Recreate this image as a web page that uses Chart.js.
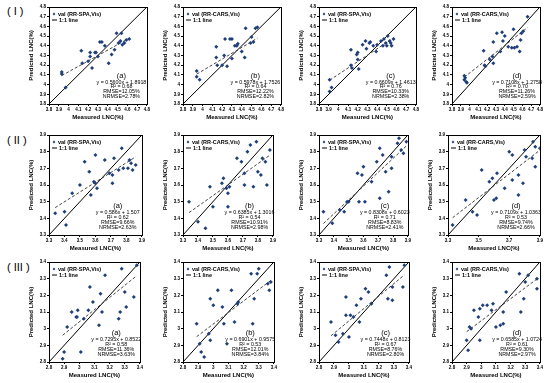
<!DOCTYPE html>
<html>
<head>
<meta charset="utf-8">
<script src="https://cdn.jsdelivr.net/npm/chart.js@4.4.1/dist/chart.umd.min.js"></script>
<style>
  body { margin: 0; width: 550px; height: 383px; background: #fff; position: relative; overflow: hidden; }
  .row-label { position: absolute; left: 7px; font: 11px 'Liberation Sans', Arial, sans-serif; color: #000; }
  canvas { position: absolute; }
</style>
</head>
<body>
<div class="row-label" style="top:5px">( I )</div>
<div class="row-label" style="top:134px">( II )</div>
<div class="row-label" style="top:261px">( III )</div>
<script>
// ---- data (measured x, predicted y) ----
const xIa = [3.93, 3.93, 3.97, 4.13, 4.14, 4.20, 4.22, 4.22, 4.24, 4.27, 4.28, 4.30, 4.32, 4.34, 4.37, 4.41, 4.44, 4.47, 4.49, 4.51, 4.53, 4.54, 4.55, 4.57, 4.59, 4.62];
const yIa = [4.13, 4.11, 3.97, 4.35, 4.22, 4.24, 4.33, 4.29, 4.17, 4.33, 4.33, 4.29, 4.44, 4.44, 4.40, 4.22, 4.31, 4.36, 4.53, 4.43, 4.45, 4.53, 4.41, 4.43, 4.46, 4.47];
const xIb = [3.94, 3.94, 3.97, 4.14, 4.14, 4.15, 4.20, 4.22, 4.23, 4.25, 4.28, 4.30, 4.30, 4.33, 4.35, 4.36, 4.40, 4.43, 4.44, 4.49, 4.50, 4.52, 4.54, 4.56];
const yIb = [4.14, 4.08, 4.05, 4.39, 4.28, 4.20, 4.20, 4.30, 4.47, 4.19, 4.47, 4.27, 4.47, 4.40, 4.40, 4.42, 4.34, 4.28, 4.58, 4.43, 4.49, 4.44, 4.58, 4.59];
const xIc = [3.91, 3.93, 3.91, 4.13, 4.13, 4.14, 4.19, 4.20, 4.20, 4.21, 4.25, 4.28, 4.29, 4.32, 4.33, 4.36, 4.39, 4.40, 4.44, 4.46, 4.47, 4.49, 4.50, 4.51, 4.53, 4.54, 4.55, 4.57];
const yIc = [4.05, 3.97, 3.93, 4.36, 4.20, 4.17, 4.31, 4.33, 4.26, 4.16, 4.41, 4.45, 4.37, 4.43, 4.44, 4.40, 4.34, 4.41, 4.45, 4.40, 4.47, 4.43, 4.40, 4.50, 4.45, 4.43, 4.40, 4.47];
const xId = [3.94, 3.94, 3.95, 3.97, 3.96, 4.16, 4.18, 4.17, 4.23, 4.26, 4.27, 4.27, 4.31, 4.35, 4.37, 4.38, 4.40, 4.44, 4.48, 4.50, 4.51, 4.54, 4.57, 4.58, 4.59, 4.61, 4.66];
const yId = [4.05, 4.09, 4.07, 4.02, 4.03, 4.35, 4.19, 4.20, 4.26, 4.29, 4.22, 4.44, 4.53, 4.34, 4.54, 4.45, 4.50, 4.39, 4.38, 4.57, 4.38, 4.39, 4.34, 4.46, 4.53, 4.55, 4.70];
const xIIa = [3.34, 3.40, 3.41, 3.45, 3.50, 3.53, 3.56, 3.57, 3.59, 3.60, 3.60, 3.61, 3.66, 3.69, 3.71, 3.71, 3.72, 3.75, 3.77, 3.78, 3.81, 3.82, 3.83, 3.84, 3.86];
const yIIa = [3.43, 3.44, 3.36, 3.55, 3.60, 3.74, 3.68, 3.54, 3.62, 3.61, 3.78, 3.58, 3.75, 3.67, 3.66, 3.61, 3.76, 3.69, 3.82, 3.70, 3.70, 3.75, 3.73, 3.69, 3.72];
const xIIb = [3.34, 3.40, 3.45, 3.48, 3.50, 3.56, 3.57, 3.59, 3.60, 3.60, 3.61, 3.66, 3.69, 3.71, 3.71, 3.73, 3.75, 3.77, 3.79, 3.80, 3.82, 3.83, 3.85, 3.86, 3.88];
const yIIb = [3.50, 3.38, 3.34, 3.59, 3.47, 3.61, 3.64, 3.58, 3.55, 3.47, 3.59, 3.76, 3.74, 3.67, 3.60, 3.80, 3.84, 3.59, 3.86, 3.68, 3.66, 3.76, 3.74, 3.60, 3.81];
const xIIc = [3.33, 3.39, 3.44, 3.47, 3.49, 3.50, 3.56, 3.57, 3.59, 3.60, 3.61, 3.655, 3.69, 3.71, 3.71, 3.73, 3.75, 3.77, 3.79, 3.79, 3.83, 3.84, 3.855, 3.87, 3.89];
const yIIc = [3.44, 3.37, 3.45, 3.44, 3.50, 3.50, 3.67, 3.50, 3.66, 3.71, 3.50, 3.62, 3.74, 3.82, 3.52, 3.78, 3.68, 3.56, 3.70, 3.77, 3.85, 3.88, 3.81, 3.79, 3.86];
const xIId = [3.33, 3.415, 3.46, 3.49, 3.52, 3.57, 3.59, 3.60, 3.615, 3.62, 3.67, 3.70, 3.72, 3.72, 3.76, 3.76, 3.79, 3.80, 3.81, 3.85, 3.855, 3.87, 3.87, 3.90];
const yIId = [3.36, 3.51, 3.44, 3.42, 3.69, 3.62, 3.64, 3.51, 3.52, 3.67, 3.58, 3.80, 3.78, 3.63, 3.66, 3.54, 3.61, 3.81, 3.77, 3.76, 3.86, 3.83, 3.71, 3.82];
const xIIIa = [2.89, 2.90, 2.92, 2.95, 2.98, 2.985, 2.99, 3.01, 3.03, 3.06, 3.07, 3.09, 3.13, 3.14, 3.15, 3.17, 3.26, 3.27, 3.28, 3.30, 3.31, 3.36, 3.38];
const yIIIa = [2.82, 2.86, 3.01, 3.10, 3.07, 3.07, 3.11, 2.86, 3.06, 3.11, 3.25, 3.16, 3.02, 3.21, 3.10, 3.32, 3.06, 3.10, 3.36, 3.22, 3.13, 3.19, 3.38];
const xIIIb = [2.89, 2.91, 2.92, 2.94, 2.97, 2.98, 2.98, 3.00, 3.03, 3.06, 3.07, 3.09, 3.12, 3.14, 3.16, 3.165, 3.25, 3.26, 3.27, 3.29, 3.30, 3.36, 3.37, 3.38];
const yIIIb = [3.03, 2.91, 2.86, 2.83, 2.97, 2.93, 3.18, 3.14, 3.23, 3.13, 3.03, 2.91, 3.23, 3.04, 3.15, 3.16, 3.33, 3.03, 3.18, 3.33, 3.36, 3.27, 3.23, 3.28];
const xIIIc = [2.88, 2.91, 2.93, 2.96, 2.98, 2.98, 3.00, 3.01, 3.03, 3.05, 3.07, 3.08, 3.11, 3.13, 3.15, 3.25, 3.26, 3.27, 3.29, 3.29, 3.36, 3.37];
const yIIIc = [3.04, 2.96, 2.92, 2.97, 3.08, 3.19, 2.95, 3.08, 3.07, 3.14, 3.04, 3.18, 3.24, 3.22, 3.15, 3.32, 3.18, 3.37, 3.17, 3.25, 3.25, 3.38];
const xIIId = [2.90, 2.91, 2.92, 2.93, 2.95, 2.98, 2.99, 2.99, 3.01, 3.04, 3.07, 3.08, 3.10, 3.13, 3.15, 3.15, 3.17, 3.26, 3.27, 3.29, 3.30, 3.32, 3.38, 3.38];
const yIIId = [2.93, 2.87, 3.01, 3.00, 3.11, 3.07, 2.93, 3.12, 3.14, 3.14, 3.11, 3.15, 3.01, 3.02, 3.03, 3.10, 3.22, 3.33, 3.10, 3.18, 3.28, 3.32, 3.30, 3.24];

// ---- fitted lines and statistics printed on each panel ----
const slopes     = [0.5600, 0.5978, 0.6609, 0.7108, 0.586, 0.6385, 0.8308, 0.7109, 0.7295, 0.6901, 0.7448, 0.6585];
const intercepts = [1.8918, 1.7526, 1.4613, 1.2758, 1.507, 1.3016, 0.6023, 1.0363, 0.8522, 0.9575, 0.8123, 1.0724];
const eqText     = ['y = 0.5600x + 1.8918', 'y = 0.5978x + 1.7526', 'y = 0.6609x + 1.4613', 'y = 0.7108x + 1.2758',
                    'y = 0.586x + 1.507', 'y = 0.6385x + 1.3016', 'y = 0.8308x + 0.6023', 'y = 0.7109x + 1.0363',
                    'y = 0.7295x + 0.8522', 'y = 0.6901x + 0.9575', 'y = 0.7448x + 0.8123', 'y = 0.6585x + 1.0724'];
const r2Text     = ['0.68', '0.64', '0.76', '0.70', '0.62', '0.54', '0.71', '0.53', '0.58', '0.53', '0.67', '0.61'];
const rmseText   = ['12.05%', '12.22%', '10.33%', '11.26%', '9.66%', '10.91%', '8.83%', '9.74%', '11.36%', '12.01%', '8.76%', '9.30%'];
const nrmseText  = ['2.78%', '2.82%', '2.38%', '2.59%', '2.63%', '2.98%', '2.41%', '2.66%', '3.63%', '3.84%', '2.80%', '2.97%'];
const panelTags  = ['(a)', '(b)', '(c)', '(d)'];
const seriesNames = ['val (RR-SPA,Vis)', 'val (RR-CARS,Vis)', 'val (RR-SPA,Vis)', 'val (RR-CARS,Vis)'];

// ---- axis ranges per row ----
const rowMin  = [3.8, 3.3, 2.8];
const rowMax  = [4.8, 3.9, 3.4];
const xSteps  = [0.1, 0.1, 0.1, 0.1, 0.1, 0.1, 0.1, 0.2, 0.1, 0.1, 0.1, 0.1];

// ---- layout: plot area [left, top, width, height] of each panel ----
const panelBox = [
  [49, 7, 98, 97], [183, 7, 98, 97], [319, 7, 97, 97], [452, 7, 88, 97],
  [49, 135, 93, 100], [183, 135, 90, 100], [319, 135, 89, 100], [448, 135, 92, 100],
  [49, 262, 91, 100], [183, 262, 91, 100], [319, 262, 90, 100], [452, 262, 88, 100]
];
const Y_W = 22, X_H = 18, PAD_T = 6, PAD_R = 4;
const FONT = "'Liberation Sans', Arial, sans-serif";
const MARK = '#1F3F7A';

const panelX = [xIa, xIb, xIc, xId, xIIa, xIIb, xIIc, xIId, xIIIa, xIIIb, xIIIc, xIIId];
const panelY = [yIa, yIb, yIc, yId, yIIa, yIIb, yIIc, yIId, yIIIa, yIIIb, yIIIc, yIIId];

// frame, legend and the stats block inside each plot
const panelDecor = {
  id: 'panelDecor',
  afterDraw(chart, args, opts) {
    const { ctx, chartArea: a } = chart;
    const w = a.right - a.left, h = a.bottom - a.top;
    ctx.save();
    ctx.strokeStyle = '#000';
    ctx.lineWidth = 1;
    ctx.strokeRect(Math.round(a.left) + 0.5, Math.round(a.top) + 0.5, Math.round(w), Math.round(h));

    // legend
    ctx.fillStyle = MARK;
    const lx = a.left + 5, ly1 = a.top + 7, ly2 = a.top + 13;
    ctx.beginPath();
    ctx.moveTo(lx, ly1 - 1.4); ctx.lineTo(lx + 1.4, ly1); ctx.lineTo(lx, ly1 + 1.4); ctx.lineTo(lx - 1.4, ly1);
    ctx.fill();
    ctx.beginPath();
    ctx.moveTo(lx - 2, ly2); ctx.lineTo(lx + 3, ly2);
    ctx.stroke();
    ctx.fillStyle = '#000';
    ctx.font = 'bold 5.5px ' + FONT;
    ctx.textAlign = 'left';
    ctx.textBaseline = 'middle';
    ctx.fillText(opts.name, lx + 4, ly1);
    ctx.fillText('1:1 line', lx + 5, ly2);

    // stats
    const cx = a.left + 0.74 * w;
    ctx.textAlign = 'center';
    ctx.font = '7.5px ' + FONT;
    ctx.fillText(opts.tag, cx, a.top + 0.71 * h);
    ctx.font = '5.3px ' + FONT;
    ctx.fillText(opts.eq, cx, a.top + 0.775 * h);
    ctx.fillText('R\u00B2 = ' + opts.r2, cx, a.top + 0.825 * h);
    ctx.fillText('RMSE=' + opts.rmse, cx, a.top + 0.875 * h);
    ctx.fillText('NRMSE=' + opts.nrmse, cx, a.top + 0.925 * h);
    ctx.restore();
  }
};

function tickLabel(v) {
  return String(Math.round(v * 10) / 10);
}

function buildPanel(i) {
  const [left, top, w, h] = panelBox[i];
  const row = Math.floor(i / 4), col = i % 4;
  const xs = panelX[i], ys = panelY[i];
  const lo = rowMin[row], hi = rowMax[row];

  const canvas = document.createElement('canvas');
  const cw = Y_W + w + PAD_R, ch = PAD_T + h + X_H;
  canvas.width = cw; canvas.height = ch;
  canvas.style.left = (left - Y_W) + 'px';
  canvas.style.top = (top - PAD_T) + 'px';
  canvas.style.width = cw + 'px';
  canvas.style.height = ch + 'px';
  document.body.appendChild(canvas);

  const pts = xs.map((x, k) => ({ x: x, y: ys[k] }));
  const xa = Math.min(...xs), xb = Math.max(...xs);
  const fit = [{ x: xa, y: slopes[i] * xa + intercepts[i] }, { x: xb, y: slopes[i] * xb + intercepts[i] }];
  const oneToOne = [{ x: lo, y: lo }, { x: hi, y: hi }];

  const axisTitle = { display: true, color: '#000', font: { family: FONT, size: 6, weight: 'bold' }, padding: 1 };

  new Chart(canvas, {
    type: 'scatter',
    data: {
      datasets: [
        { data: pts, pointStyle: 'rectRot', pointRadius: 2, backgroundColor: MARK, borderColor: MARK, borderWidth: 0, order: 0 },
        { data: fit, showLine: true, borderColor: '#444', borderWidth: 1, borderDash: [3, 2], pointRadius: 0, order: 1 },
        { data: oneToOne, showLine: true, borderColor: '#000', borderWidth: 1, pointRadius: 0, order: 2 }
      ]
    },
    options: {
      responsive: false,
      animation: false,
      devicePixelRatio: 1,
      layout: { padding: { top: PAD_T, right: PAD_R, left: 0, bottom: 0 } },
      plugins: {
        legend: { display: false },
        tooltip: { enabled: false },
        panelDecor: {
          name: seriesNames[col], tag: panelTags[col], eq: eqText[i],
          r2: r2Text[i], rmse: rmseText[i], nrmse: nrmseText[i]
        }
      },
      scales: {
        x: {
          type: 'linear', min: lo, max: hi,
          afterFit: s => { s.height = X_H; },
          ticks: { stepSize: xSteps[i], autoSkip: false, maxRotation: 0, padding: 1, color: '#000',
                   font: { family: FONT, size: 4.5, weight: 'bold' }, callback: tickLabel },
          grid: { drawOnChartArea: false, tickLength: 2, color: '#000' },
          border: { color: '#000' },
          title: Object.assign({ text: 'Measured LNC(%)' }, axisTitle)
        },
        y: {
          type: 'linear', min: lo, max: hi,
          afterFit: s => { s.width = Y_W; },
          ticks: { stepSize: 0.1, autoSkip: false, padding: 1, color: '#000',
                   font: { family: FONT, size: 4.5, weight: 'bold' }, callback: tickLabel },
          grid: { drawOnChartArea: false, tickLength: 2, color: '#000' },
          border: { color: '#000' },
          title: Object.assign({ text: 'Predicted LNC(%)' }, axisTitle)
        }
      }
    },
    plugins: [panelDecor]
  });
}

for (let i = 0; i < 12; i++) {
  buildPanel(i);
}
</script>
</body>
</html>
